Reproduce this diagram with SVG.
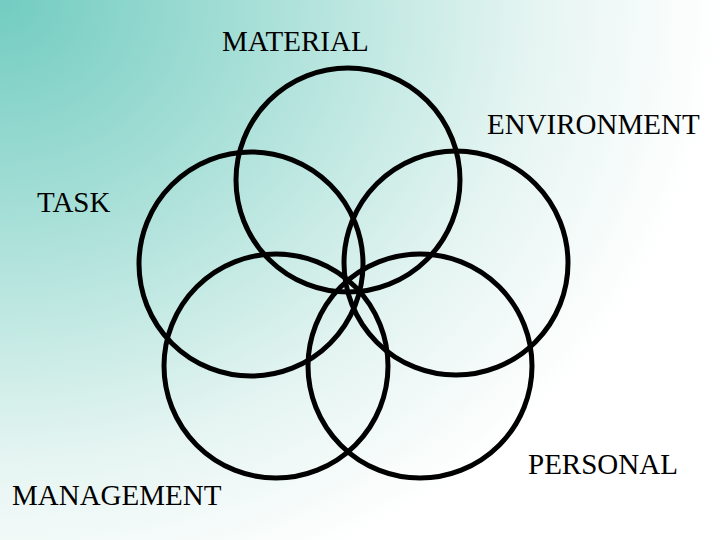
<svg xmlns="http://www.w3.org/2000/svg" width="720" height="540" viewBox="0 0 720 540">
<style>
.c{fill:none;stroke:#000;stroke-width:5}
.t{font-family:"Liberation Serif","Times New Roman",serif;font-size:29px;fill:#000}
</style>
<defs>
<radialGradient id="bg" cx="0" cy="0" r="1" gradientUnits="userSpaceOnUse" gradientTransform="translate(0,0) scale(720,620)">
<stop offset="0" stop-color="#72ccc1"/>
<stop offset="0.35" stop-color="#a6dfd7"/>
<stop offset="0.75" stop-color="#e6f5f2"/>
<stop offset="1" stop-color="#ffffff"/>
</radialGradient>
</defs>
<rect width="720" height="540" fill="url(#bg)"/>
<g id="material"><circle class="c" cx="348" cy="180" r="112"/><text class="t" x="222" y="51">MATERIAL</text></g>
<g id="environment"><circle class="c" cx="456" cy="263" r="112"/><text class="t" x="487" y="134">ENVIRONMENT</text></g>
<g id="task"><circle class="c" cx="251" cy="264" r="112"/><text class="t" x="37" y="212">TASK</text></g>
<g id="management"><circle class="c" cx="276" cy="366" r="112"/><text class="t" x="12" y="505">MANAGEMENT</text></g>
<g id="personal"><circle class="c" cx="420" cy="366" r="112"/><text class="t" x="528" y="474">PERSONAL</text></g>
<g id="connectors"></g>
</svg>
